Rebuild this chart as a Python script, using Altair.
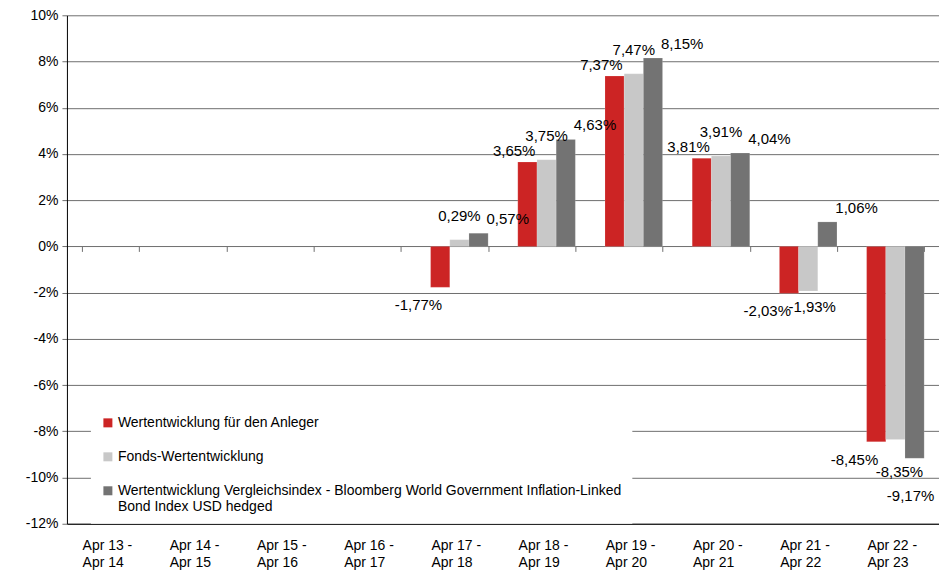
import altair as alt
import pandas as pd

categories = ["Apr 13 - Apr 14", "Apr 14 - Apr 15", "Apr 15 - Apr 16", "Apr 16 - Apr 17",
              "Apr 17 - Apr 18", "Apr 18 - Apr 19", "Apr 19 - Apr 20", "Apr 20 - Apr 21",
              "Apr 21 - Apr 22", "Apr 22 - Apr 23"]
series_names = ["Wertentwicklung für den Anleger",
                "Fonds-Wertentwicklung",
                "Wertentwicklung Vergleichsindex - Bloomberg World Government Inflation-Linked Bond Index USD hedged"]
anleger = [None, None, None, None, -1.77, 3.65, 7.37, 3.81, -2.03, -8.45]
fonds = [None, None, None, None, 0.29, 3.75, 7.47, 3.91, -1.93, -8.35]
vergleich = [None, None, None, None, 0.57, 4.63, 8.15, 4.04, 1.06, -9.17]
colors = ["#CC2424", "#C8C8C8", "#737373"]
y_ticks = [-12, -10, -8, -6, -4, -2, 0, 2, 4, 6, 8, 10]

rows = []
for s, vals in zip(series_names, [anleger, fonds, vergleich]):
    for c, v in zip(categories, vals):
        if v is not None:
            rows.append({"cat": c, "series": s, "v": v,
                         "txt": f"{v:.2f}".replace(".", ",") + "%"})
df = pd.DataFrame(rows)

W, H = 873, 509
FONT = "Liberation Sans"

x_scale = alt.Scale(domain=categories, paddingInner=0.34, paddingOuter=0.17)
x_enc = alt.X("cat:N", sort=categories, title=None, scale=x_scale,
              axis=alt.Axis(labelExpr="[split(datum.value, ' - ')[0] + ' -', split(datum.value, ' - ')[1]]",
                            labelAlign="left", labelOffset=-28, labelBaseline="top",
                            labelPadding=15, labelLineHeight=17, labelFontSize=14, labelFont=FONT,
                            labelColor="#000000", ticks=False, domain=True, domainColor="#000000",
                            labelAngle=0, grid=False))
xoff = alt.XOffset("series:N", sort=series_names,
                   scale=alt.Scale(domain=series_names, paddingInner=0, paddingOuter=0))
y_scale = alt.Scale(domain=[-12, 10], nice=False, zero=False)
y_enc = alt.Y("v:Q", title=None, scale=y_scale,
              axis=alt.Axis(values=y_ticks, labelExpr="datum.value + '%'", labelFontSize=14,
                            labelFont=FONT, labelColor="#000000", gridColor="#6e6e6e",
                            gridWidth=1, tickColor="#6e6e6e", tickSize=5, labelPadding=4,
                            domainColor="#000000"))

base = alt.Chart(df)

bars = base.mark_bar(stroke="#ffffff", strokeWidth=0.3, strokeOpacity=0.5).encode(
    x=x_enc, xOffset=xoff, y=y_enc,
    color=alt.Color("series:N", sort=series_names,
                    scale=alt.Scale(domain=series_names, range=colors),
                    legend=alt.Legend(
                        title=None, orient="none", legendX=24, legendY=391,
                        fillColor="#ffffff", padding=10, symbolType="square", symbolSize=81,
                        symbolStrokeWidth=0, labelFontSize=14, labelFont=FONT,
                        labelColor="#000000", labelLimit=700, rowPadding=20, labelOffset=3,
                        labelExpr="length(datum.label) > 60 ? ['Wertentwicklung Vergleichsindex - Bloomberg World Government Inflation-Linked', 'Bond Index USD hedged'] : datum.label",
                        direction="vertical")),
)

zero_ticks = base.mark_bar(opacity=0).encode(
    x=alt.X("cat:N", sort=categories, title=None, scale=x_scale,
            axis=alt.Axis(orient="bottom", offset=-(H - H * 10 / 22), labels=False, ticks=True,
                          tickBand="extent", tickSize=5, tickColor="#6e6e6e", domain=False,
                          grid=False)),
    xOffset=xoff,
    y=alt.Y("v:Q", scale=y_scale),
)

# label placement per series and sign: (align, dx, dy) in pixels; negative labels of the
# middle series sit below the lowest bar of their group
placement = {
    (0, True): ("right", 8, -11), (0, False): ("right", 2, 18),
    (1, True): ("center", 0, -24), (1, False): ("center", 4, 14),
    (2, True): ("left", 8, -14), (2, False): ("center", -4, 38),
}
labels = []
for (i, pos), (al, dx, dy) in placement.items():
    cond = "datum.v >= 0" if pos else "datum.v < 0"
    ch = base.transform_joinaggregate(minv="min(v)", groupby=["cat"]).transform_calculate(
        anchor="datum.v" if (pos or i != 1) else "datum.minv")
    labels.append(
        ch.transform_filter(alt.datum.series == series_names[i])
        .transform_filter(cond)
        .mark_text(align=al, dx=dx, dy=dy, fontSize=15, font=FONT, color="#000000",
                   baseline="middle")
        .encode(x=alt.X("cat:N", sort=categories, scale=x_scale, axis=None),
                xOffset=xoff, y=alt.Y("anchor:Q", scale=y_scale), text="txt:N")
    )

chart = alt.layer(bars, zero_ticks, *labels).resolve_axis(x="independent").properties(
    width=W, height=H, padding={"left": 17, "top": 0, "right": 0, "bottom": 0}
).configure_view(stroke=None).configure_axis(domainWidth=1)

chart.save("out.html", embed_options={"renderer": "svg", "actions": False})
